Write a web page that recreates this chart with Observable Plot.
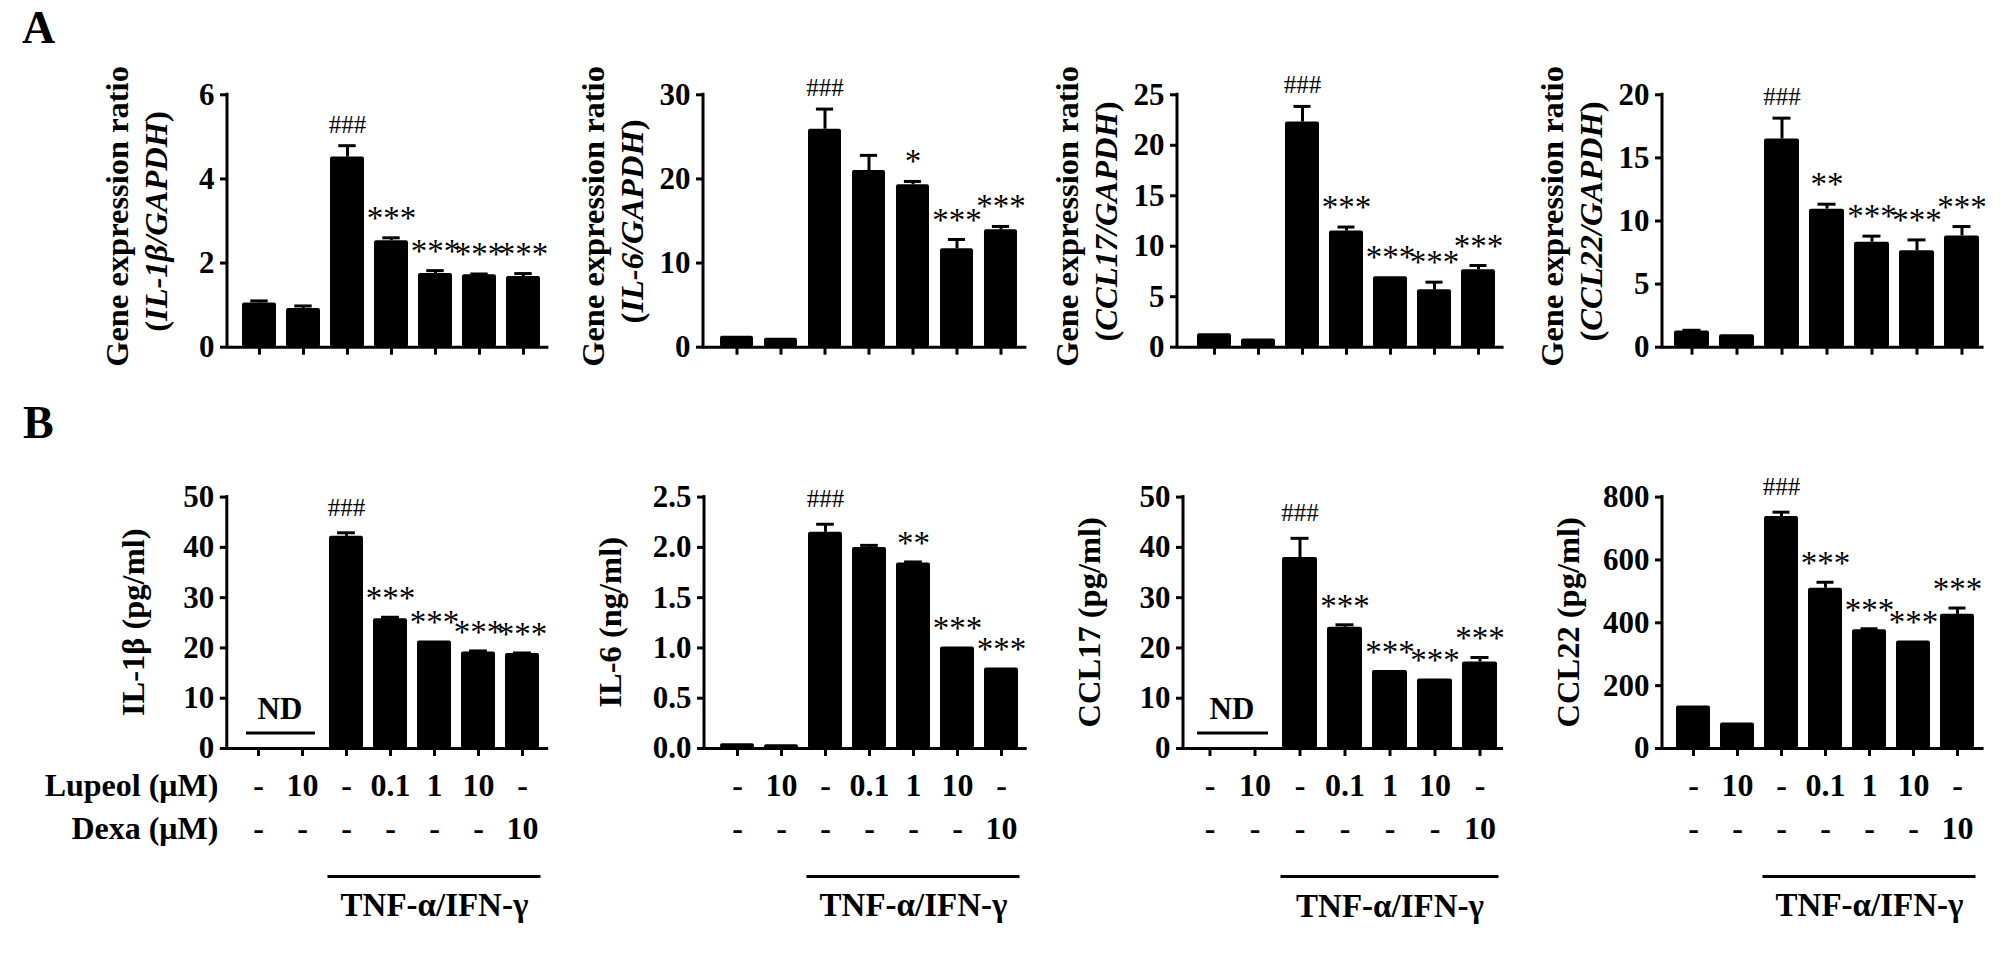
<!DOCTYPE html>
<html><head><meta charset="utf-8">
<script src="https://cdn.jsdelivr.net/npm/d3@7"></script>
<script src="https://cdn.jsdelivr.net/npm/@observablehq/plot@0.6"></script>
<style>
body{margin:0;background:#fff;}
#wrap{position:relative;width:2008px;height:964px;overflow:hidden;background:#fff;}
.panel{position:absolute;}
.panel svg{display:block;max-width:none;overflow:visible;}
#labels{position:absolute;left:0;top:0;}
</style></head><body><div id="wrap"></div>
<script>
// ---------- data ----------
const groups = ["g1", "g2", "g3", "g4", "g5", "g6", "g7"];
const lupeol = ["-", "10", "-", "0.1", "1", "10", "-"];
const dexa = ["-", "-", "-", "-", "-", "-", "10"];
const treatment = "TNF-α/IFN-γ";
const rowLabels = ["Lupeol (μM)", "Dexa (μM)"];
const panelLetters = ["A", "B"];

const mrnaGenes = ["IL-1β", "IL-6", "CCL17", "CCL22"];
const mrnaTitle = "Gene expression ratio";
const proteinTitles = ["IL-1β (pg/ml)", "IL-6 (ng/ml)", "CCL17 (pg/ml)", "CCL22 (pg/ml)"];

const il1bMrna = [1.05, 0.92, 4.52, 2.53, 1.75, 1.72, 1.68];
const il1bMrnaErr = [0.05, 0.06, 0.27, 0.07, 0.07, 0.02, 0.07];
const il1bMrnaSig = ["", "", "###", "***", "***", "***", "***"];
const il1bMrnaTicks = [0, 2, 4, 6];

const il6Mrna = [1.3, 1.07, 25.9, 21.0, 19.3, 11.7, 13.95];
const il6MrnaErr = [0, 0, 2.4, 1.8, 0.4, 1.1, 0.4];
const il6MrnaSig = ["", "", "###", "", "*", "***", "***"];
const il6MrnaTicks = [0, 10, 20, 30];

const ccl17Mrna = [1.32, 0.8, 22.3, 11.5, 6.97, 5.68, 7.66];
const ccl17MrnaErr = [0, 0, 1.55, 0.4, 0, 0.76, 0.43];
const ccl17MrnaSig = ["", "", "###", "***", "***", "***", "***"];
const ccl17MrnaTicks = [0, 5, 10, 15, 20, 25];

const ccl22Mrna = [1.29, 0.98, 16.5, 10.94, 8.32, 7.64, 8.82];
const ccl22MrnaErr = [0.05, 0, 1.65, 0.39, 0.48, 0.86, 0.74];
const ccl22MrnaSig = ["", "", "###", "**", "***", "***", "***"];
const ccl22MrnaTicks = [0, 5, 10, 15, 20];

const il1bProt = [null, null, 42.2, 25.8, 21.4, 19.2, 18.9];
const il1bProtErr = [0, 0, 0.7, 0.3, 0, 0.2, 0.1];
const il1bProtSig = ["", "", "###", "***", "***", "***", "***"];
const il1bProtTicks = [0, 10, 20, 30, 40, 50];

const il6Prot = [0.047, 0.036, 2.15, 2.0, 1.845, 1.01, 0.80];
const il6ProtErr = [0, 0, 0.08, 0.02, 0.01, 0, 0];
const il6ProtSig = ["", "", "###", "", "**", "***", "***"];
const il6ProtTicks = [0, 0.5, 1.0, 1.5, 2.0, 2.5];

const ccl17Prot = [null, null, 38.0, 24.1, 15.5, 13.8, 17.2];
const ccl17ProtErr = [0, 0, 3.8, 0.5, 0, 0, 0.9];
const ccl17ProtSig = ["", "", "###", "***", "***", "***", "***"];
const ccl17ProtTicks = [0, 10, 20, 30, 40, 50];

const ccl22Prot = [135, 81, 738, 510, 378, 342, 427];
const ccl22ProtErr = [0, 0, 14, 19, 3, 0, 20];
const ccl22ProtSig = ["", "", "###", "***", "***", "***", "***"];
const ccl22ProtTicks = [0, 200, 400, 600, 800];

const ndLevel = 3;

// ---------- layout ----------
const FONT = "'Liberation Serif', 'Times New Roman', Times, serif";
const rowA = {svgTop: 0, height: 390, top: 94.3, bottom: 346.7, hashGap: 13, starGap: 9};
const rowB = {svgTop: 400, height: 564, top: 496.6, bottom: 748, hashGap: 17, starGap: 8};
const layouts = {
  A1: {axis: 226.8, end: 548.2, c1: 256.1, c7: 525, bw: 34.6, ml: 150, mr: 30},
  A2: {axis: 703.3, end: 1026.7, c1: 735, c7: 1003, bw: 33.8, ml: 150, mr: 30},
  A3: {axis: 1176.7, end: 1503.3, c1: 1211.7, c7: 1481, bw: 35, ml: 150, mr: 30},
  A4: {axis: 1661.7, end: 1983.3, c1: 1691, c7: 1961, bw: 35, ml: 150, mr: 24},
  B1: {axis: 226.8, end: 548.2, c1: 256, c7: 524.3, bw: 34.2, ml: 226.8, mr: 30},
  B2: {axis: 704, end: 1026.7, c1: 733.3, c7: 1003.3, bw: 34.3, ml: 150, mr: 30},
  B3: {axis: 1183.3, end: 1503.3, c1: 1210, c7: 1480, bw: 35, ml: 150, mr: 30},
  B4: {axis: 1661.7, end: 1983.3, c1: 1690, c7: 1959.3, bw: 35, ml: 150, mr: 24}
};

const NS = "http://www.w3.org/2000/svg";
function el(tag, attrs = {}, text) {
  const e = document.createElementNS(NS, tag);
  for (const [k, v] of Object.entries(attrs)) e.setAttribute(k, v);
  if (text != null) e.textContent = text;
  return e;
}

function yAxisLine() {
  return (index, scales, values, d) =>
    el("line", {x1: d.marginLeft, x2: d.marginLeft, y1: d.marginTop - 1.5, y2: d.height - d.marginBottom + 1.5,
      stroke: "black", "stroke-width": 3});
}

function titleMark(lines, offsets, shifts) {
  return (index, scales, values, d) => {
    const g = el("g");
    const cy = (d.marginTop + d.height - d.marginBottom) / 2;
    lines.forEach((segs, k) => {
      const t = el("text", {transform: `translate(${d.marginLeft + offsets[k]},${cy + shifts[k]}) rotate(-90)`,
        "text-anchor": "middle", "font-size": 32.5, "font-weight": "bold", fill: "black", "font-family": FONT});
      segs.forEach(([s, it]) => t.appendChild(el("tspan", it ? {"font-style": "italic"} : {}, s)));
      g.appendChild(t);
    });
    return g;
  };
}

function ndMark(level) {
  return (index, {x, y}, values, d) => {
    const bw = x.bandwidth ? x.bandwidth() : 0;
    const g = el("g");
    const yy = y(level);
    g.appendChild(el("line", {x1: x(groups[0]) + 5, x2: x(groups[1]) + bw - 4, y1: yy, y2: yy, stroke: "black", "stroke-width": 3}));
    g.appendChild(el("text", {x: (x(groups[0]) + x(groups[1]) + bw) / 2, y: yy - 14, "text-anchor": "middle",
      "font-size": 31, "font-weight": "bold", fill: "black", "font-family": FONT}, "ND"));
    return g;
  };
}

function treatmentLine(offset) {
  return (index, {x}, values, d) => {
    const bw = x.bandwidth ? x.bandwidth() : 0;
    const yy = d.height - d.marginBottom + offset;
    return el("line", {x1: x(groups[2]) - 1.5, x2: x(groups[6]) + bw + 1.5, y1: yy, y2: yy, stroke: "black", "stroke-width": 3});
  };
}

const panels = [
  {id: "A1", row: rowA, values: il1bMrna, err: il1bMrnaErr, sig: il1bMrnaSig, ticks: il1bMrnaTicks, gene: mrnaGenes[0]},
  {id: "A2", row: rowA, values: il6Mrna, err: il6MrnaErr, sig: il6MrnaSig, ticks: il6MrnaTicks, gene: mrnaGenes[1]},
  {id: "A3", row: rowA, values: ccl17Mrna, err: ccl17MrnaErr, sig: ccl17MrnaSig, ticks: ccl17MrnaTicks, gene: mrnaGenes[2]},
  {id: "A4", row: rowA, values: ccl22Mrna, err: ccl22MrnaErr, sig: ccl22MrnaSig, ticks: ccl22MrnaTicks, gene: mrnaGenes[3]},
  {id: "B1", row: rowB, values: il1bProt, err: il1bProtErr, sig: il1bProtSig, ticks: il1bProtTicks, title: proteinTitles[0], nd: true, rowLabels: true},
  {id: "B2", row: rowB, values: il6Prot, err: il6ProtErr, sig: il6ProtSig, ticks: il6ProtTicks, title: proteinTitles[1], fmt: d3.format(".1f")},
  {id: "B3", row: rowB, values: ccl17Prot, err: ccl17ProtErr, sig: ccl17ProtSig, ticks: ccl17ProtTicks, title: proteinTitles[2], nd: true},
  {id: "B4", row: rowB, values: ccl22Prot, err: ccl22ProtErr, sig: ccl22ProtSig, ticks: ccl22ProtTicks, title: proteinTitles[3]}
];

const wrap = document.getElementById("wrap");

for (const p of panels) {
  const L = layouts[p.id];
  const R = p.row;
  const step = (L.c7 - L.c1) / 6;
  const padIn = 1 - L.bw / step;
  const svgLeft = L.axis - L.ml;
  const width = L.end - svgLeft + L.mr;
  const marginTop = R.top - R.svgTop;
  const marginBottom = R.svgTop + R.height - R.bottom;
  const rows = groups.map((g, i) => ({g, v: p.values[i], e: p.err[i], s: p.sig[i], lup: lupeol[i], dexa: dexa[i]}));
  const bars = rows.filter(d => d.v != null);
  const errs = bars.filter(d => d.e > 0);
  const capInset = (L.bw - 18) / 2;
  const topOf = d => d.v + (d.e || 0);

  const marks = [
    Plot.barY(bars, {x: "g", y: "v", fill: "black", rx: 2}),
    Plot.ruleX(errs, {x: "g", y1: "v", y2: topOf, stroke: "black", strokeWidth: 3}),
    Plot.tickY(errs, {x: "g", y: topOf, stroke: "black", strokeWidth: 3, insetLeft: capInset, insetRight: capInset}),
    Plot.text(bars.filter(d => d.s.startsWith("#")), {x: "g", y: topOf, text: "s", dy: -R.hashGap, lineAnchor: "bottom", fontSize: 25, fill: "black"}),
    Plot.text(bars.filter(d => d.s.startsWith("*")), {x: "g", y: topOf, text: "s", dy: -R.starGap, lineAnchor: "bottom", fontSize: 33, fill: "black", ariaLabel: "stars"}),
    Plot.ruleY([0], {stroke: "black", strokeWidth: 3}),
    yAxisLine(),
    Plot.axisY({ticks: p.ticks, tickFormat: p.fmt || (d => String(d)), tickSize: 7, tickPadding: 6, fontSize: 31, fontWeight: "bold", strokeWidth: 3, label: null, fill: "black", stroke: "black"}),
    Plot.axisX({tickSize: 8, tickFormat: () => "", strokeWidth: 3, label: null, stroke: "black"})
  ];

  if (p.gene) {
    marks.push(titleMark([[[mrnaTitle]], [["("], [`${p.gene}/GAPDH`, true], [")"]]], [-99, -60], [-4, 1]));
  } else {
    marks.push(titleMark([[[p.title]]], [-83], [0]));
  }

  if (R === rowB) {
    marks.push(
      Plot.text(rows, {x: "g", text: "lup", frameAnchor: "bottom", dy: 47.7, fontSize: 32, fontWeight: "bold", fill: "black"}),
      Plot.text(rows, {x: "g", text: "dexa", frameAnchor: "bottom", dy: 90.8, fontSize: 32, fontWeight: "bold", fill: "black"}),
      treatmentLine(128.6),
      Plot.text([treatment], {x: () => groups[4], text: d => d, frameAnchor: "bottom", dy: 168, fontSize: 33, fontWeight: "bold", fill: "black"})
    );
    if (p.nd) marks.push(ndMark(ndLevel));
    if (p.rowLabels) {
      marks.push(
        Plot.text([rowLabels[0]], {text: d => d, frameAnchor: "bottom-left", textAnchor: "end", dx: -9, dy: 47.7, fontSize: 32, fontWeight: "bold", fill: "black"}),
        Plot.text([rowLabels[1]], {text: d => d, frameAnchor: "bottom-left", textAnchor: "end", dx: -9, dy: 90.8, fontSize: 32, fontWeight: "bold", fill: "black"})
      );
    }
  }

  const svg = Plot.plot({
    width, height: R.height,
    marginLeft: L.ml, marginRight: L.mr, marginTop, marginBottom,
    x: {domain: groups, paddingInner: padIn, paddingOuter: 0, insetLeft: L.c1 - L.bw / 2 - L.axis, insetRight: L.end - (L.c7 + L.bw / 2)},
    y: {domain: [0, p.ticks[p.ticks.length - 1]]},
    style: {fontFamily: FONT, color: "black", background: "transparent", overflow: "visible"},
    marks
  });
  svg.querySelectorAll('[aria-label="stars"] text').forEach(t => t.setAttribute("letter-spacing", "2.5"));
  const div = document.createElement("div");
  div.className = "panel";
  div.style.left = svgLeft + "px";
  div.style.top = R.svgTop + "px";
  div.style.width = width + "px";
  div.appendChild(svg);
  wrap.appendChild(div);
}

// panel letters
const lab = el("svg", {id: "labels", width: 2008, height: 964});
lab.appendChild(el("text", {x: 22, y: 43, "font-size": 46, "font-weight": "bold", "font-family": FONT, fill: "black"}, panelLetters[0]));
lab.appendChild(el("text", {x: 23, y: 438, "font-size": 46, "font-weight": "bold", "font-family": FONT, fill: "black"}, panelLetters[1]));
wrap.appendChild(lab);
</script></body></html>
